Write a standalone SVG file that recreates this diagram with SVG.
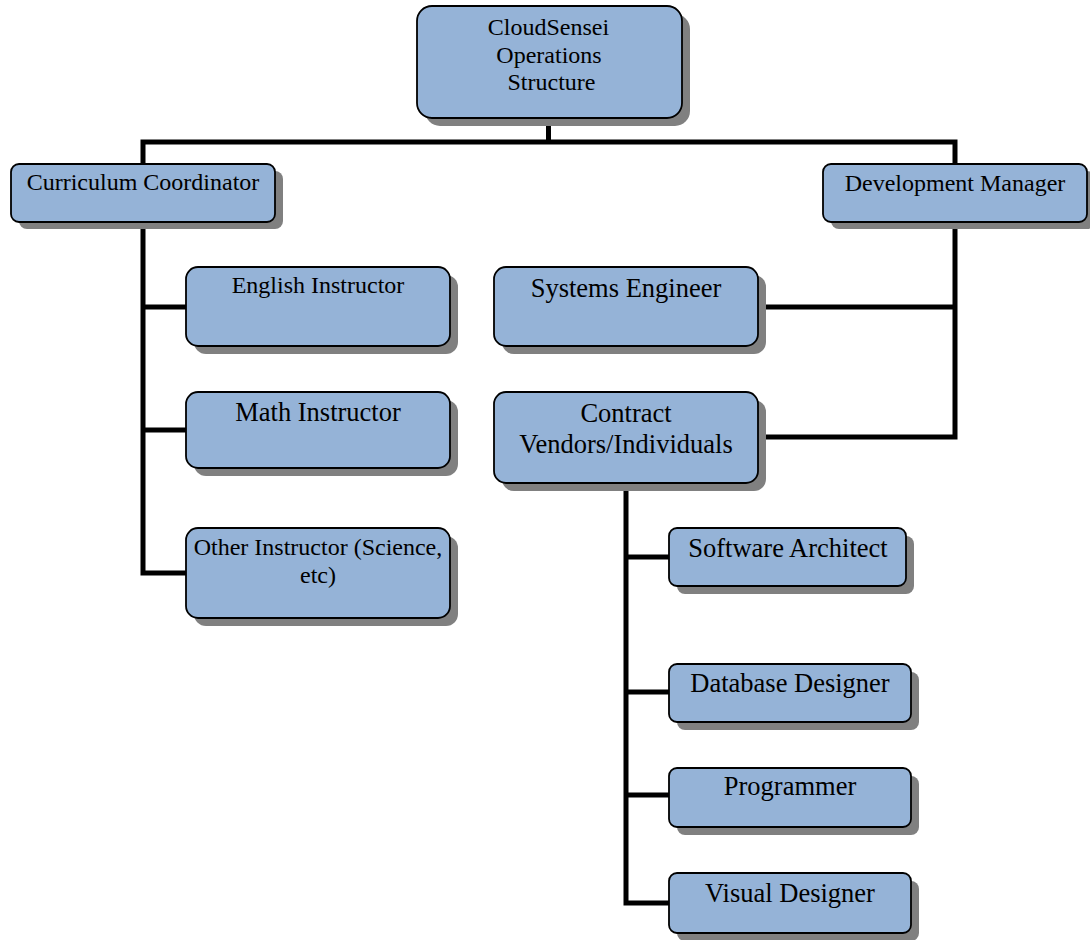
<svg xmlns="http://www.w3.org/2000/svg" width="1090" height="940" viewBox="0 0 1090 940">
<style>
.shadow{fill:#808080;stroke:none}
.box{fill:#95b3d7;stroke:#000;stroke-width:1.8}
.t{font-family:"Liberation Serif","Times New Roman",serif;fill:#000;text-anchor:middle}
.s{font-size:24px}
.l{font-size:26.5px}
.conn{fill:none;stroke:#000;stroke-width:5;stroke-linejoin:miter}
</style>
<rect width="1090" height="940" fill="#fff"/>
<g id="connectors">
<path class="conn" d="M548.5,118 V142 M140.5,142 H957.5 M143,142 V164 M955,142 V164"/>
<path class="conn" d="M143,222 V575.5 M141,307 H187 M141,430 H187 M141,573 H187"/>
<path class="conn" d="M955,222 V437 H758 M955,307 H758"/>
<path class="conn" d="M626,483 V905.5 M624,557 H669 M624,692 H669 M624,795 H669 M624,903 H669"/>
</g>
<g id="n-top">
<rect class="shadow" x="425" y="14" width="265" height="112" rx="15"/>
<rect class="box" x="417" y="6" width="265" height="112" rx="15"/>
<text class="t s" x="548.5" y="35">CloudSensei</text>
<text class="t s" x="549" y="63">Operations</text>
<text class="t s" x="551.5" y="90">Structure</text>
</g>
<g id="n-curriculum">
<rect class="shadow" x="19" y="171" width="264" height="58" rx="8"/>
<rect class="box" x="11" y="164" width="264" height="58" rx="8"/>
<text class="t s" x="143" y="190">Curriculum Coordinator</text>
</g>
<g id="n-devmgr">
<rect class="shadow" x="831" y="171" width="264" height="58" rx="8"/>
<rect class="box" x="823" y="164" width="264" height="58" rx="8"/>
<text class="t s" x="955" y="191">Development Manager</text>
</g>
<g id="n-english">
<rect class="shadow" x="194" y="275" width="264" height="79" rx="12"/>
<rect class="box" x="186" y="267" width="264" height="79" rx="12"/>
<text class="t s" x="318" y="293">English Instructor</text>
</g>
<g id="n-math">
<rect class="shadow" x="194" y="400" width="264" height="76" rx="12"/>
<rect class="box" x="186" y="392" width="264" height="76" rx="12"/>
<text class="t l" x="318" y="421">Math Instructor</text>
</g>
<g id="n-other">
<rect class="shadow" x="194" y="536" width="264" height="90" rx="12"/>
<rect class="box" x="186" y="528" width="264" height="90" rx="12"/>
<text class="t s" x="318" y="555">Other Instructor (Science,</text>
<text class="t s" x="318" y="583">etc)</text>
</g>
<g id="n-systems">
<rect class="shadow" x="502" y="275" width="264" height="79" rx="12"/>
<rect class="box" x="494" y="267" width="264" height="79" rx="12"/>
<text class="t l" x="626" y="297">Systems Engineer</text>
</g>
<g id="n-contract">
<rect class="shadow" x="502" y="400" width="264" height="91" rx="12"/>
<rect class="box" x="494" y="392" width="264" height="91" rx="12"/>
<text class="t l" x="626" y="422">Contract</text>
<text class="t l" x="626" y="453">Vendors/Individuals</text>
</g>
<g id="n-software">
<rect class="shadow" x="677" y="536" width="237" height="58" rx="8"/>
<rect class="box" x="669" y="528" width="237" height="58" rx="8"/>
<text class="t l" x="788" y="557">Software Architect</text>
</g>
<g id="n-database">
<rect class="shadow" x="677" y="672" width="242" height="58" rx="8"/>
<rect class="box" x="669" y="664" width="242" height="58" rx="8"/>
<text class="t l" x="790" y="692">Database Designer</text>
</g>
<g id="n-programmer">
<rect class="shadow" x="677" y="776" width="242" height="59" rx="8"/>
<rect class="box" x="669" y="768" width="242" height="59" rx="8"/>
<text class="t l" x="790" y="795">Programmer</text>
</g>
<g id="n-visual">
<rect class="shadow" x="677" y="881" width="242" height="60" rx="8"/>
<rect class="box" x="669" y="873" width="242" height="60" rx="8"/>
<text class="t l" x="790" y="902">Visual Designer</text>
</g>
</svg>
